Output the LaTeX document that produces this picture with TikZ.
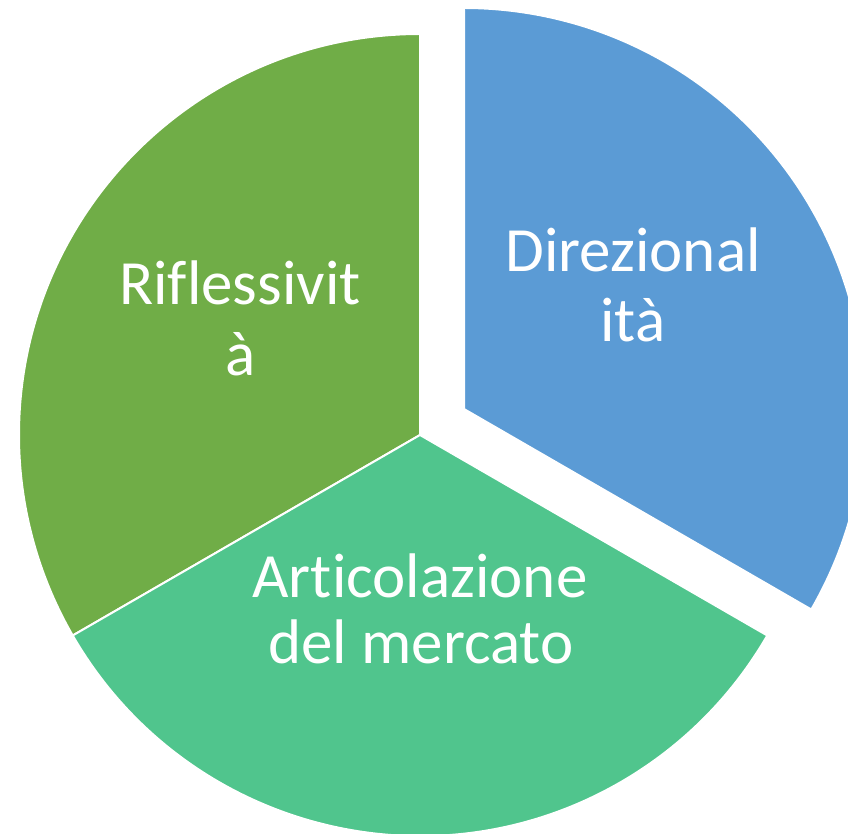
\documentclass[tikz,border=0pt]{standalone}
\usepackage{fontspec}
\setmainfont[Ligatures=NoCommon]{Carlito}
\definecolor{cGreen}{HTML}{70AD47}
\definecolor{cTeal}{HTML}{50C58D}
\definecolor{cBlue}{HTML}{5B9BD5}
\begin{document}
\begin{tikzpicture}[x=1pt,y=1pt,
  sector/.style={draw=white,line width=2pt,line join=miter},
  lbl/.style={text=white,anchor=base,inner sep=0pt,font=\fontsize{63}{70}\selectfont}]
\useasboundingbox (0,0) rectangle (848,833);
\clip (0,0) rectangle (848,833);
\def\R{401}
\coordinate (c) at (420,398);
\coordinate (cb) at (464,424);
\fill[white] (0,0) rectangle (848,833);
\filldraw[sector,fill=cGreen] (c) -- ++(90:\R) arc[start angle=90,end angle=210,radius=\R] -- cycle;
\filldraw[sector,fill=cTeal] (c) -- ++(210:\R) arc[start angle=210,end angle=330,radius=\R] -- cycle;
\filldraw[sector,fill=cBlue] (cb) -- ++(-30:\R) arc[start angle=-30,end angle=90,radius=\R] -- cycle;
\node[lbl] (d1) at (633,561) {Direzional};
\node[lbl] (d2) at (633,491) {ità};
\node[lbl] (r1) at (240,528) {Riflessivit};
\node[lbl] (r2) at (241,457) {à};
\node[lbl] (a1) at (420,236) {Articolazione};
\node[lbl] (a2) at (421,170) {del mercato};
\end{tikzpicture}
\end{document}
